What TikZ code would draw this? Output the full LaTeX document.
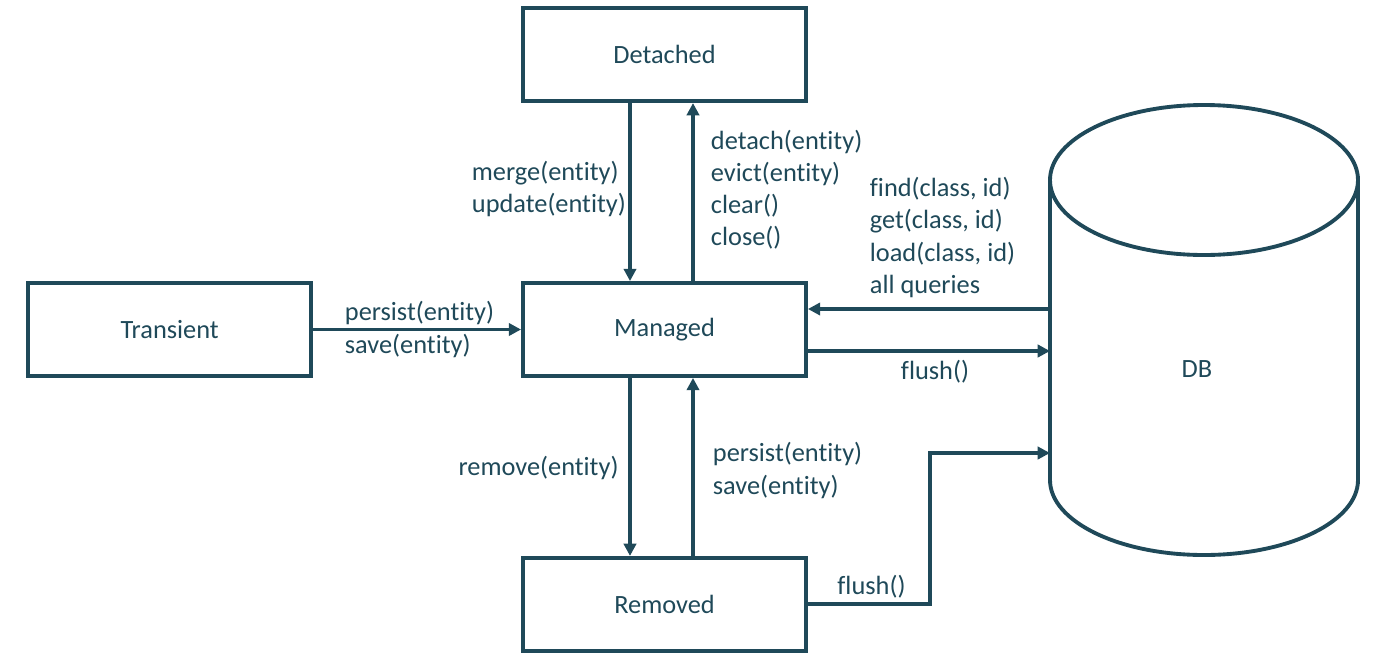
\documentclass[tikz,border=0pt]{standalone}
\usepackage{fontspec}
\setmainfont{Carlito}[Ligatures=NoCommon]
\usetikzlibrary{positioning}
\usetikzlibrary{arrows.meta}
\definecolor{statecolor}{RGB}{31,73,89}

\begin{document}
\begin{tikzpicture}[
  node distance=3.56cm and 4.16cm,
  color=statecolor,
  line width=2.2pt,
  every node/.style={font=\fontsize{15}{18.3}\selectfont},
  state/.style={draw,rectangle,minimum width=5.66cm,minimum height=1.86cm,align=center},
  ops/.style={align=left,inner sep=0pt,anchor=west},
  trans/.style={-{Triangle[length=7pt,width=7pt]}}
]
\useasboundingbox (-13.29,-6.79) rectangle (14.57,6.59);

\node[state] (managed) at (0,0) {Managed};
\node[state,left=of managed] (transient) {Transient};
\node[state,above=of managed] (detached) {Detached};
\node[state,below=of managed] (removed) {Removed};

% database
\draw (7.71,2.99) -- (7.71,-3.01) arc[start angle=180,end angle=360,x radius=3.08cm,y radius=1.5cm] -- (13.87,2.99);
\draw (10.79,2.99) ellipse[x radius=3.08cm,y radius=1.5cm];
\node (db) at (10.65,-0.79) {DB};
\coordinate (dbload) at (7.71,0.41);
\coordinate (dbflush) at (7.71,-0.43);
\coordinate (dbremoved) at (7.71,-2.47);
\coordinate (bend) at (5.31,-2.47);

\path[trans] (transient) edge (managed)
([xshift=-0.69cm]detached.south) edge ([xshift=-0.69cm]managed.north)
([xshift=0.57cm]managed.north) edge ([xshift=0.57cm]detached.south)
([xshift=-0.69cm]managed.south) edge ([xshift=-0.69cm]removed.north)
([xshift=0.57cm]removed.north) edge ([xshift=0.57cm]managed.south)
(dbload) edge (dbload -| managed.east)
(managed.east |- dbflush) edge (dbflush)
;
\draw[trans] (removed.east) -| (bend) -- (dbremoved);

\node[ops] (mergeops) at (-3.89,2.81) {merge(entity)\\update(entity)};
\node[ops] (detachops) at (0.89,2.80) {detach(entity)\\evict(entity)\\clear()\\close()};
\node[ops] (findops) at (4.07,1.84) {find(class, id)\\get(class, id)\\load(class, id)\\all queries};
\node[ops] (persistops) at (-6.43,0.0) {persist(entity)\\save(entity)};
\node (flushops) at (5.41,-0.85) {flush()};
\node (removeops) at (-2.52,-2.77) {remove(entity)};
\node[ops] (restoreops) at (0.93,-2.82) {persist(entity)\\save(entity)};
\node (flushremoved) at (4.14,-5.15) {flush()};
\end{tikzpicture}
\end{document}
